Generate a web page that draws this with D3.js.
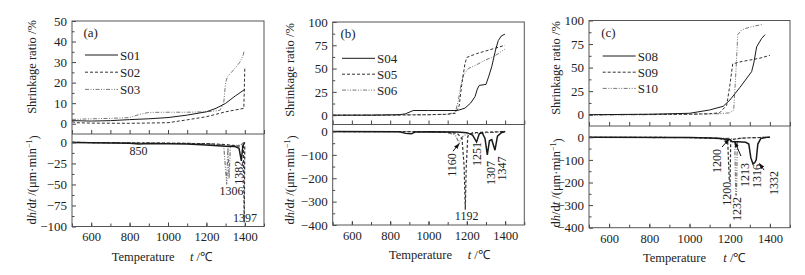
<!DOCTYPE html>
<html>
<head>
<meta charset="utf-8">
<script src="https://cdn.jsdelivr.net/npm/d3@7"></script>
<style>
body { margin: 0; background: #fff; }
svg text { font-family: "Liberation Serif", "Times New Roman", serif; fill: #222; }
.axis path { display: none; }
.axis line { stroke: #444; }
.axis text { font-size: 13px; }
.xaxis text { font-size: 12.5px; }
.frame { fill: none; stroke: #555; stroke-width: 1; }
.solid { fill: none; stroke: #1a1a1a; stroke-width: 1; }
.dashed { fill: none; stroke: #333; stroke-width: 1; stroke-dasharray: 3,2; }
.dashdot { fill: none; stroke: #777; stroke-width: 1; stroke-dasharray: 4,1.5,1,1.5,1,1.5; }
</style>
</head>
<body>
<svg id="fig" width="805" height="275"></svg>
<script>
// [temperature °C, value]

// (a) shrinkage ratio %
const s01Shrink = [[500,1.5],[600,1.3],[700,1.5],[800,2],[900,2.4],[1000,3],[1100,4.2],[1200,5.8],[1250,7.5],[1300,9.9],[1350,13.5],[1400,16.7]];
const s02Shrink = [[500,1],[520,0.5],[600,0.3],[800,0.2],[1000,0.5],[1100,1.9],[1200,3.4],[1300,5.8],[1395,7.5],[1400,27]];
const s03Shrink = [[500,2.1],[600,2.4],[700,2.6],[800,3],[850,4.5],[900,5.5],[1000,5.6],[1100,5.6],[1200,5.8],[1270,6.5],[1290,10],[1300,20],[1310,23],[1340,26],[1375,30],[1390,33],[1396,35]];
// (a) dh/dt
const s01Rate = [[500,0],[600,-0.5],[700,-0.8],[800,-1],[850,-2],[900,-1.2],[1000,-1.5],[1100,-2],[1200,-3],[1300,-4.5],[1350,-5],[1370,-7],[1382,-22],[1390,-4],[1400,0]];
const s02Rate = [[500,0],[800,-0.5],[1000,-1],[1200,-1.5],[1300,-2.5],[1393,-5],[1397,-95],[1400,-3]];
const s03Rate = [[500,0],[850,-0.5],[1000,-0.8],[1200,-1.5],[1290,-3],[1306,-50],[1312,-5],[1318,-43],[1325,-4],[1380,-3],[1395,0]];

// (b)
const s04Shrink = [[500,0],[700,0],[850,0.5],[880,1.5],[920,5],[1000,5],[1150,5],[1190,7.5],[1220,13],[1243,20],[1255,28],[1265,32],[1300,33],[1315,42],[1330,52],[1350,70],[1364,80],[1380,85],[1399,87]];
const s05Shrink = [[500,0],[800,0],[1000,0.5],[1100,1],[1140,2],[1160,10],[1173,32],[1190,55],[1200,62],[1250,66],[1300,69],[1350,72],[1399,75]];
const s06Shrink = [[500,0],[800,0.5],[1000,0.5],[1100,1],[1140,3],[1156,16],[1170,33],[1182,43],[1208,50],[1250,54],[1295,59],[1330,62],[1364,66],[1399,71]];
const s04Rate = [[500,0],[850,-1],[880,-8],[910,-10],[930,-2],[1000,-1],[1150,-2],[1200,-5],[1230,-15],[1251,-45],[1265,-10],[1280,-5],[1295,-30],[1307,-100],[1318,-40],[1330,-35],[1347,-80],[1360,-20],[1380,-5],[1400,0]];
const s05Rate = [[500,0],[1000,-1],[1100,-3],[1150,-8],[1175,-30],[1186,-150],[1192,-335],[1197,-150],[1205,-20],[1230,-5],[1300,-3],[1400,0]];
const s06Rate = [[500,0],[1000,-1],[1100,-5],[1140,-15],[1160,-50],[1170,-30],[1180,-20],[1200,-10],[1250,-8],[1300,-5],[1350,-3],[1400,0]];

// (c)
const s08Shrink = [[500,0],[800,0.5],[1000,1.5],[1100,5],[1168,9],[1201,15.6],[1251,29],[1309,45.6],[1320,55],[1334,72],[1359,81],[1376,85]];
const s09Shrink = [[500,0],[800,0.3],[1000,0.5],[1100,1],[1150,2],[1185,10],[1200,30],[1215,54],[1250,56],[1300,58],[1350,60],[1400,63]];
const s10Shrink = [[500,-0.5],[800,0],[1000,0.5],[1150,1],[1200,2],[1220,5],[1232,50],[1240,85],[1260,90],[1300,93],[1367,96]];
const s08Rate = [[500,0],[1000,-1],[1100,-3],[1150,-5],[1200,-10],[1213,-20],[1240,-20],[1280,-22],[1295,-30],[1305,-90],[1316,-118],[1325,-112],[1332,-100],[1340,-30],[1355,-5],[1385,0],[1400,0]];
const s09Rate = [[500,0],[1000,-1],[1150,-5],[1190,-15],[1198,-196],[1202,-196],[1205,-10],[1250,-5],[1300,-2],[1400,0]];
const s10Rate = [[500,0],[1100,-2],[1200,-5],[1225,-10],[1230,-255],[1234,-255],[1238,-5],[1300,-2],[1370,0]];

const tempDomain = [500, 1500];
const tempMajor = [600, 800, 1000, 1200, 1400];
const tempMinor = d3.range(500, 1501, 100);
const seriesNames = [["S01","S02","S03"], ["S04","S05","S06"], ["S08","S09","S10"]];
const seriesClass = ["solid", "dashed", "dashdot"];

// peak labels: [text, t, v, rotated]
const peaksA = [["850",846,-10,false],["1306",1331,-58,false],["1382",1367,-36,true],["1397",1401,-90,false]];
const peaksB = [["1160",1120,-143,true],["1251",1252,-96,true],["1307",1326,-177,true],["1347",1382,-158,true],["1192",1199,-362,false]];
const peaksC = [["1200",1135,-105,true],["1200",1185,-250,true],["1232",1235,-317,true],["1213",1276,-167,true],["1316",1334,-171,true],["1332",1417,-202,true]];
// arrows: [t0, v0, t1, v1]
const arrowsB = [[1128,-84,1160,-52]];
const arrowsC = [[1162,-43,1197,-8],[1256,-83,1226,-21],[1371,-145,1348,-116]];

const panels = [
  { tag: "(a)", x0: 72, x1: 264, top: 21, split: 134, bottom: 226.5,
    topDomain: [-5, 50], topTicks: [0,10,20,30,40,50], topMinor: [5,15,25,35,45],
    botDomain: [-100, 10], botTicks: [0,-25,-50,-75,-100], botMinor: [-12.5,-37.5,-62.5,-87.5],
    shrink: [s01Shrink, s02Shrink, s03Shrink], rate: [s01Rate, s02Rate, s03Rate],
    peaks: peaksA, arrows: [],
    legX: 85, legY: 55, legStep: 17.2, yTitleX: 32, shrinkTitleY: 67, rateTitleY: 180,
    tempX: 111.7, tX: 190 },
  { tag: "(b)", x0: 332.7, x1: 524.3, top: 22, split: 124.5, bottom: 225,
    topDomain: [-10, 100], topTicks: [0,25,50,75,100], topMinor: [12.5,37.5,62.5,87.5],
    botDomain: [-400, 30], botTicks: [0,-100,-200,-300,-400], botMinor: [-50,-150,-250,-350],
    shrink: [s04Shrink, s05Shrink, s06Shrink], rate: [s04Rate, s05Rate, s06Rate],
    peaks: peaksB, arrows: arrowsB,
    legX: 342, legY: 58.3, legStep: 15.9, yTitleX: 290, shrinkTitleY: 70, rateTitleY: 180,
    tempX: 389, tX: 467.7 },
  { tag: "(c)", x0: 589, x1: 790, top: 20.5, split: 126, bottom: 227.7,
    topDomain: [-12, 100], topTicks: [0,25,50,75,100], topMinor: [12.5,37.5,62.5,87.5],
    botDomain: [-400, 50], botTicks: [0,-100,-200,-300,-400], botMinor: [-50,-150,-250,-350],
    shrink: [s08Shrink, s09Shrink, s10Shrink], rate: [s08Rate, s09Rate, s10Rate],
    peaks: peaksC, arrows: arrowsC,
    legX: 602.7, legY: 56, legStep: 16.2, yTitleX: 556, shrinkTitleY: 68, rateTitleY: 183,
    tempX: 643, tX: 723.3 }
];

const svg = d3.select("#fig");
const defs = svg.append("defs");
defs.append("marker").attr("id", "arrow").attr("viewBox", "0 0 10 10")
  .attr("refX", 9).attr("refY", 5).attr("markerWidth", 6).attr("markerHeight", 6)
  .attr("orient", "auto")
  .append("path").attr("d", "M0,1.5L10,5L0,8.5z").attr("fill", "#111");

panels.forEach((p, i) => {
  const g = svg.append("g");
  const x = d3.scaleLinear().domain(tempDomain).range([p.x0, p.x1]);
  const yTop = d3.scaleLinear().domain(p.topDomain).range([p.split, p.top]);
  const yBot = d3.scaleLinear().domain(p.botDomain).range([p.bottom, p.split]);

  defs.append("clipPath").attr("id", "ct" + i).append("rect")
    .attr("x", p.x0).attr("y", p.top).attr("width", p.x1 - p.x0).attr("height", p.split - p.top);
  defs.append("clipPath").attr("id", "cb" + i).append("rect")
    .attr("x", p.x0).attr("y", p.split).attr("width", p.x1 - p.x0).attr("height", p.bottom - p.split);

  // data lines
  const topLine = d3.line().x(d => x(d[0])).y(d => yTop(d[1]));
  const botLine = d3.line().x(d => x(d[0])).y(d => yBot(d[1]));
  const gt = g.append("g").attr("clip-path", `url(#ct${i})`);
  const gb = g.append("g").attr("clip-path", `url(#cb${i})`);
  [2, 1, 0].forEach(k => {
    gt.append("path").attr("class", seriesClass[k]).attr("d", topLine(p.shrink[k]));
    gb.append("path").attr("class", seriesClass[k]).attr("d", botLine(p.rate[k]))
      .style("stroke-width", k === 0 ? 1.5 : 1.2);
  });

  // axes (ticks point inward)
  const fmt = d3.format("d");
  g.append("g").attr("class", "axis xaxis").attr("transform", `translate(0,${p.bottom})`)
    .call(d3.axisBottom(x).tickValues(tempMinor).tickSize(-3).tickFormat(""));
  g.append("g").attr("class", "axis xaxis").attr("transform", `translate(0,${p.bottom})`)
    .call(d3.axisBottom(x).tickValues(tempMajor).tickSize(-4).tickPadding(6).tickFormat(fmt));
  g.append("g").attr("class", "axis").attr("transform", `translate(0,${p.split})`)
    .call(d3.axisBottom(x).tickValues(tempMinor).tickSize(-4).tickFormat(""));

  g.append("g").attr("class", "axis").attr("transform", `translate(${p.x0},0)`)
    .call(d3.axisLeft(yTop).tickValues(p.topTicks).tickSize(-4).tickPadding(5));
  g.append("g").attr("class", "axis").attr("transform", `translate(${p.x0},0)`)
    .call(d3.axisLeft(yTop).tickValues(p.topMinor).tickSize(-2.5).tickFormat(""));
  g.append("g").attr("class", "axis").attr("transform", `translate(${p.x0},0)`)
    .call(d3.axisLeft(yBot).tickValues(p.botTicks).tickSize(-4).tickPadding(5));
  g.append("g").attr("class", "axis").attr("transform", `translate(${p.x0},0)`)
    .call(d3.axisLeft(yBot).tickValues(p.botMinor).tickSize(-2.5).tickFormat(""));

  // frame
  g.append("rect").attr("class", "frame").attr("x", p.x0).attr("y", p.top)
    .attr("width", p.x1 - p.x0).attr("height", p.bottom - p.top);
  g.append("line").attr("class", "frame").attr("x1", p.x0).attr("x2", p.x1)
    .attr("y1", p.split).attr("y2", p.split);

  // panel tag + legend
  g.append("text").attr("x", p.legX - 1.5).attr("y", p.top + 16).attr("font-size", "13px").text(p.tag);
  seriesNames[i].forEach((name, k) => {
    const ly = p.legY + k * p.legStep;
    g.append("line").attr("class", seriesClass[k]).attr("x1", p.legX).attr("x2", p.legX + 33)
      .attr("y1", ly).attr("y2", ly);
    g.append("text").attr("x", p.legX + 35).attr("y", ly).attr("dy", "0.35em")
      .attr("font-size", "13px").text(name);
  });

  // axis titles
  g.append("text").attr("font-size", "12.5px").attr("text-anchor", "middle")
    .attr("transform", `translate(${p.yTitleX},${p.shrinkTitleY}) rotate(-90)`)
    .attr("dy", "0.35em").text("Shrinkage ratio /%");
  const rt = g.append("text").attr("font-size", "12.5px").attr("text-anchor", "middle")
    .attr("transform", `translate(${p.yTitleX},${p.rateTitleY}) rotate(-90)`).attr("dy", "0.35em");
  rt.append("tspan").text("d");
  rt.append("tspan").attr("font-style", "italic").text("h");
  rt.append("tspan").text("/d");
  rt.append("tspan").attr("font-style", "italic").text("t");
  rt.append("tspan").text(" /(μm·min");
  rt.append("tspan").attr("font-size", "8px").attr("dy", "-0.6em").text("−1");
  rt.append("tspan").attr("dy", "0.5em").text(")");

  const tt = g.append("text").attr("font-size", "12.5px").attr("y", p.bottom + 34);
  tt.append("tspan").attr("x", p.tempX).text("Temperature");
  tt.append("tspan").attr("x", p.tX).attr("font-style", "italic").text("t");
  tt.append("tspan").text(" /℃");

  // peak annotations
  p.peaks.forEach(([label, t, v, rot]) => {
    g.append("text").attr("font-size", "12px").attr("text-anchor", "middle").attr("dy", "0.35em")
      .attr("transform", `translate(${x(t)},${yBot(v)})` + (rot ? " rotate(-90)" : ""))
      .text(label);
  });
  p.arrows.forEach(([t0, v0, t1, v1]) => {
    g.append("line").attr("x1", x(t0)).attr("y1", yBot(v0)).attr("x2", x(t1)).attr("y2", yBot(v1))
      .attr("stroke", "#111").attr("stroke-width", 1).attr("marker-end", "url(#arrow)");
  });
});
</script>
</body>
</html>
